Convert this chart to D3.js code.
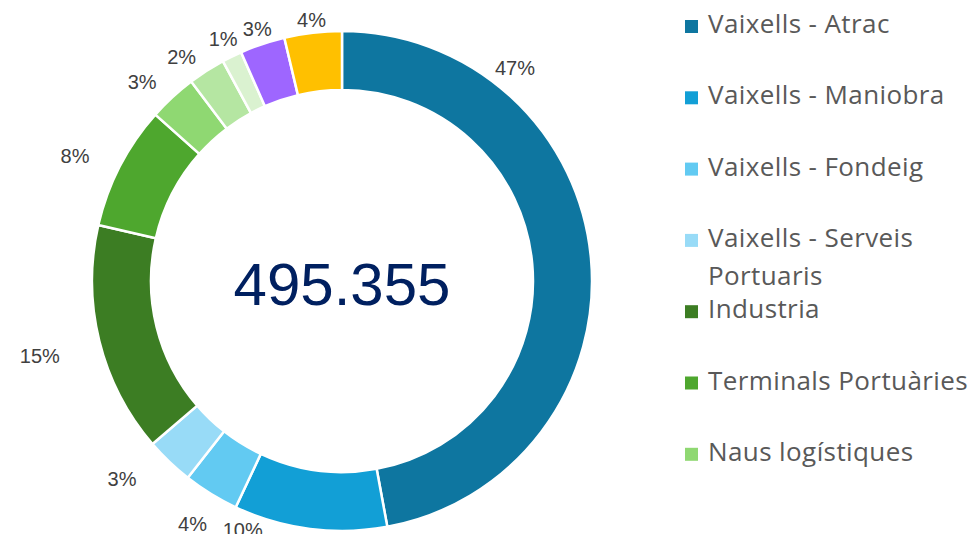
<!DOCTYPE html>
<html>
<head>
<meta charset="utf-8">
<script src="https://cdn.jsdelivr.net/npm/d3@7"></script>
<style>
  body { margin: 0; background: #fff; }
  svg { display: block; }
</style>
</head>
<body>
<div id="chart"></div>
<script>
// consum per categoria (clockwise from 12 o'clock)
var categories = ["Vaixells - Atrac", "Vaixells - Maniobra", "Vaixells - Fondeig",
  "Vaixells - Serveis Portuaris", "Industria", "Terminals Portuàries", "Naus logístiques",
  "Edificis", "Enllumenat", "Vehicles", "Altres"];
var values = [233300, 49000, 17800, 15400, 73800, 39600, 15400, 11900, 6400, 14400, 18355];
var colors = ["#0e76a0", "#129fd6", "#62caf2", "#98dbf7", "#3c7d23", "#4ea72e", "#8fd872",
  "#b5e6a2", "#daf2d0", "#9e66ff", "#ffc000"];
// only the first entries fit in the legend box
var legendShown = 7;

// labels that were dragged off the slice middle in the original: [degrees, px]
var labelNudge = {
  "Vaixells - Atrac": [-45.7, -3.5],
  "Vaixells - Maniobra": [14.4, -11.6],
  "Vaixells - Serveis Portuaris": [4.3, 0],
  "Terminals Portuàries": [-2.2, 0],
  "Naus logístiques": [-2.4, 0],
  "Edificis": [-2.8, 0]
};

var width = 973, height = 534;
var cx = 342, cy = 281, outerR = 250, innerR = 191;

var svg = d3.select("#chart").append("svg")
  .attr("width", width).attr("height", height);

var data = categories.map(function(c, i) { return { name: c, value: values[i], color: colors[i] }; });
var total = d3.sum(values);

var pie = d3.pie().sort(null).value(function(d) { return d.value; });
var arc = d3.arc().innerRadius(innerR).outerRadius(outerR);
var arcs = pie(data);

var g = svg.append("g").attr("transform", "translate(" + cx + "," + cy + ")");

g.selectAll("path.slice")
  .data(arcs).enter()
  .append("path").attr("class", "slice")
  .attr("d", arc)
  .attr("fill", function(d) { return d.data.color; })
  .attr("stroke", "#fff")
  .attr("stroke-width", 2.5);

var pct = d3.format(".0%");
g.selectAll("text.pct")
  .data(arcs).enter()
  .append("text").attr("class", "pct")
  .attr("transform", function(d) {
    var nudge = labelNudge[d.data.name] || [0, 0];
    var a = (d.startAngle + d.endAngle) / 2 + nudge[0] * Math.PI / 180;
    var s = Math.sin(a), c = Math.cos(a);
    var r = outerR + 12 + 40 * s * s + 12 * Math.min(1, Math.max(0, -4 * c)) + nudge[1];
    return "translate(" + (s * r) + "," + (-c * r) + ")";
  })
  .attr("text-anchor", "middle")
  .attr("dominant-baseline", "central")
  .style("font-family", "'Liberation Sans', Arial, sans-serif")
  .style("font-size", "20px")
  .style("fill", "#404040")
  .text(function(d) { return pct(d.data.value / total); });

// total in the hole, catalan style thousands
var fmt = d3.formatLocale({ decimal: ",", thousands: ".", grouping: [3], currency: ["", "€"] }).format(",");
g.append("text")
  .attr("x", 0).attr("y", 24)
  .attr("text-anchor", "middle")
  .style("font-family", "'Liberation Sans', Arial, sans-serif")
  .style("font-size", "60px")
  .style("fill", "#002060")
  .text(fmt(total));

// legend
var legend = svg.append("g").attr("transform", "translate(685,0)");
var baseY = 33, step = 71.3, lineH = 38;
data.slice(0, legendShown).forEach(function(d, i) {
  var y = baseY + step * i;
  legend.append("rect")
    .attr("x", 0).attr("y", y - 13)
    .attr("width", 13).attr("height", 13)
    .attr("fill", d.color);
  var t = legend.append("text")
    .attr("x", 23).attr("y", y)
    .style("font-family", "'Open Sans', 'Noto Sans', sans-serif")
    .style("font-size", "26px")
    .style("letter-spacing", "0.4px")
    .style("fill", "#595959");
  var parts = d.name == "Vaixells - Serveis Portuaris" ? ["Vaixells - Serveis", "Portuaris"] : [d.name];
  parts.forEach(function(p, j) {
    t.append("tspan").attr("x", 23).attr("dy", j == 0 ? 0 : lineH).text(p);
  });
});
</script>
</body>
</html>
